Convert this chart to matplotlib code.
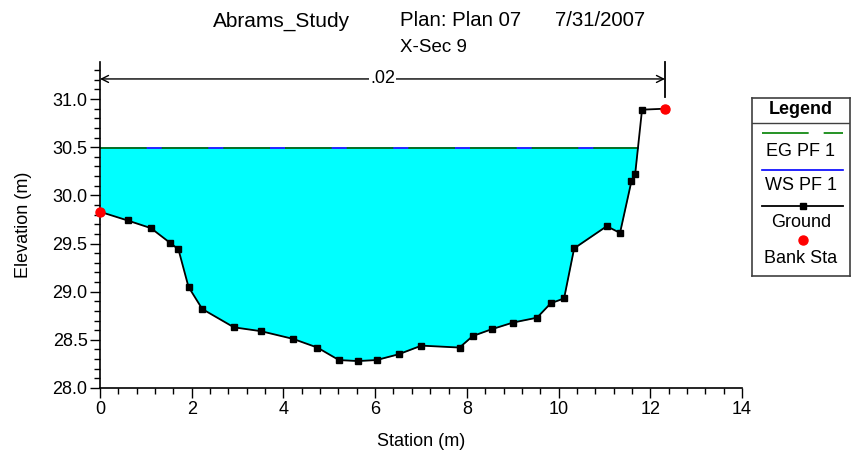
import numpy as np
import matplotlib
matplotlib.use("Agg")
import matplotlib.pyplot as plt
import matplotlib.transforms as mtransforms
from matplotlib.ticker import MultipleLocator
from matplotlib.lines import Line2D

plt.rcParams['font.family'] = ['Liberation Sans', 'DejaVu Sans']

# ground profile of X-Sec 9
station = [0.00, 0.60, 1.11, 1.52, 1.71, 1.93, 2.23, 2.92, 3.51, 4.21,
           4.74, 5.21, 5.62, 6.03, 6.51, 7.01, 7.84, 8.13, 8.54, 9.01,
           9.53, 9.83, 10.12, 10.34, 11.05, 11.34, 11.59, 11.67, 11.82, 12.32]
elevation = [29.83, 29.74, 29.66, 29.51, 29.44, 29.05, 28.82, 28.63, 28.59, 28.51,
             28.42, 28.29, 28.28, 28.29, 28.35, 28.44, 28.42, 28.54, 28.61, 28.68,
             28.73, 28.88, 28.93, 29.45, 29.68, 29.61, 30.15, 30.22, 30.89, 30.90]
bank_sta = [0.00, 12.32]
bank_elev = [29.83, 30.90]
ws_pf1 = 30.49
eg_pf1 = 30.49
mann_n = ".02"

st = np.array(station)
el = np.array(elevation)

fig = plt.figure(figsize=(8.52, 4.57), dpi=100)
ax = fig.add_axes([100/852, 69/457, 642/852, 326/457])

# water fill up to water surface
xs = np.linspace(st[0], st[-1], 3000)
gs = np.interp(xs, st, el)
ax.fill_between(xs, gs, ws_pf1, where=gs < ws_pf1, color='#00FFFF', lw=0)

# water surface and energy grade lines
x_wet = xs[gs < ws_pf1]
ax.plot([x_wet[0], x_wet[-1]], [ws_pf1, ws_pf1], color='#0000FF', lw=1.2)
eg, = ax.plot([x_wet[0], x_wet[-1]], [eg_pf1, eg_pf1], color='#008000', lw=1.2)
eg.set_dashes((28, 9))

# ground and bank stations
ax.plot(st, el, color='black', lw=1.3, marker='s', markersize=5, zorder=4)
ax.plot(bank_sta, bank_elev, ls='none', marker='o', color='red', markersize=6.5,
        zorder=5, clip_on=False)

ax.set_xlim(0, 14)
ax.set_ylim(28.0, 31.385)
ax.xaxis.set_major_locator(MultipleLocator(2))
ax.xaxis.set_minor_locator(MultipleLocator(0.4))
ax.yaxis.set_major_locator(MultipleLocator(0.5))
ax.yaxis.set_minor_locator(MultipleLocator(0.1))
ax.yaxis.set_major_formatter(matplotlib.ticker.FormatStrFormatter('%.1f'))
ax.tick_params(which='major', length=7, width=1, labelsize=13, pad=2)
ax.tick_params(which='minor', length=4, width=1)
for s in ['top', 'right']:
    ax.spines[s].set_visible(False)
for s in ['left', 'bottom']:
    ax.spines[s].set_linewidth(1.2)

ax.set_xlabel('Station (m)', fontsize=13, labelpad=11)
ax.set_ylabel('Elevation (m)', fontsize=13, labelpad=15)

# Manning's n bracket between bank stations
trans = mtransforms.blended_transform_factory(ax.transData, ax.transAxes)
ax.plot([bank_sta[1], bank_sta[1]], [0.893, 1.0], color='black', lw=1.3,
        transform=trans, clip_on=False)
ax.annotate('', xy=(bank_sta[0], 0.948), xytext=(bank_sta[1], 0.948),
            xycoords=trans, textcoords=trans,
            arrowprops=dict(arrowstyle='<->,head_length=0.5,head_width=0.25',
                            color='black', lw=1.0, shrinkA=0, shrinkB=0))
ax.text((bank_sta[0] + bank_sta[1]) / 2, 0.948, mann_n, transform=trans,
        ha='center', va='center', fontsize=13,
        bbox=dict(facecolor='white', edgecolor='none', pad=1))

# titles
fig.text(213/852, 1 - 21/457, 'Abrams_Study', fontsize=15, ha='left', va='center')
fig.text(400/852, 1 - 21/457, 'Plan: Plan 07', fontsize=14.7, ha='left', va='center')
fig.text(555/852, 1 - 21/457, '7/31/2007', fontsize=14.7, ha='left', va='center')
fig.text(400/852, 1 - 47/457, 'X-Sec 9', fontsize=13.5, ha='left', va='center')

# legend box
lax = fig.add_axes([752/852, 181/457, 98/852, 178/457])
lax.set_xlim(0, 1)
lax.set_ylim(0, 1)
lax.set_xticks([])
lax.set_yticks([])
for s in lax.spines.values():
    s.set_linewidth(1.2)
    s.set_edgecolor('#404040')
lax.axhline(0.860, color='#404040', lw=1)
lax.text(0.5, 0.933, 'Legend', ha='center', va='center', fontsize=13, fontweight='bold')
l1 = Line2D([0.10, 0.93], [0.803, 0.803], color='#008000', lw=1.2)
l1.set_dashes((28, 9))
lax.add_line(l1)
lax.text(0.5, 0.697, 'EG PF 1', ha='center', va='center', fontsize=13)
lax.add_line(Line2D([0.10, 0.93], [0.596, 0.596], color='#0000FF', lw=1.2))
lax.text(0.5, 0.506, 'WS PF 1', ha='center', va='center', fontsize=13)
lax.add_line(Line2D([0.10, 0.93], [0.393, 0.393], color='black', lw=1.3))
lax.add_line(Line2D([0.52], [0.393], color='black', marker='s', markersize=5, ls='none'))
lax.text(0.5, 0.303, 'Ground', ha='center', va='center', fontsize=13)
lax.add_line(Line2D([0.52], [0.202], color='red', marker='o', markersize=6.5, ls='none'))
lax.text(0.5, 0.101, 'Bank Sta', ha='center', va='center', fontsize=13)

fig.savefig('out.png', dpi=100)
